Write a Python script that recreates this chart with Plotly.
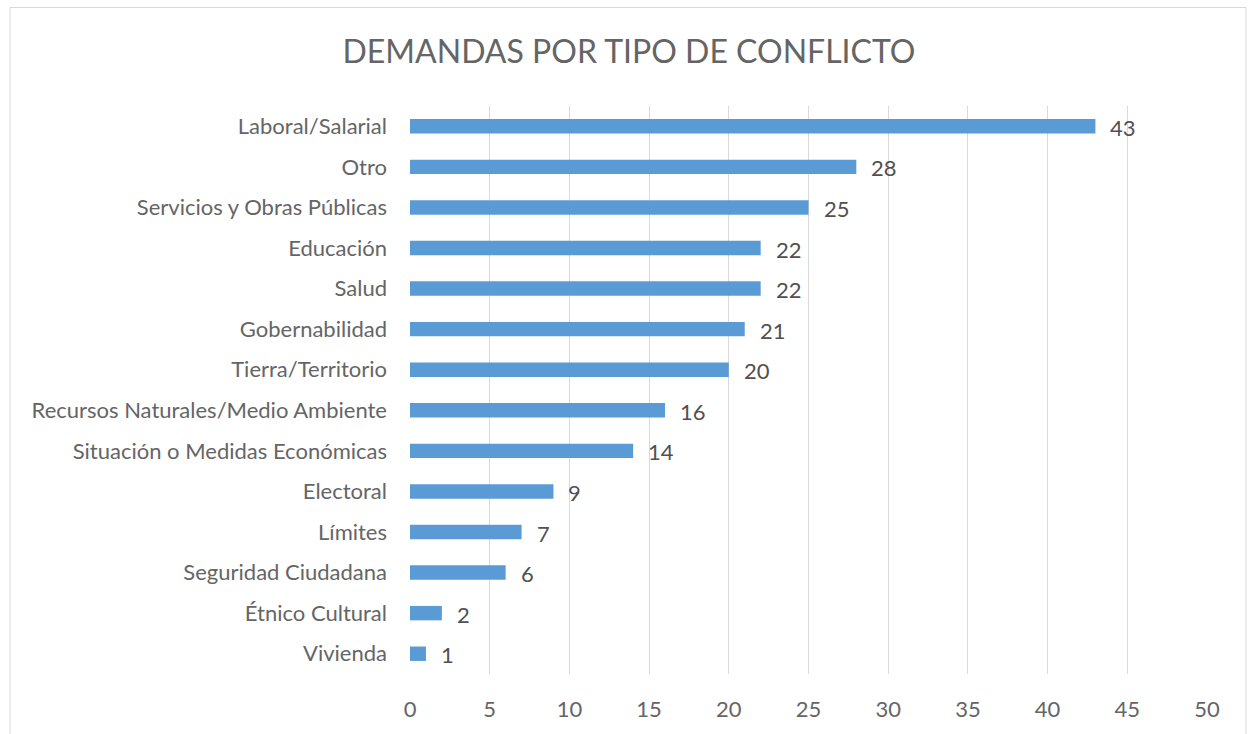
import plotly.graph_objects as go

categories = ["Laboral/Salarial", "Otro", "Servicios y Obras Públicas", "Educación", "Salud",
              "Gobernabilidad", "Tierra/Territorio", "Recursos Naturales/Medio Ambiente",
              "Situación o Medidas Económicas", "Electoral", "Límites", "Seguridad Ciudadana",
              "Étnico Cultural", "Vivienda"]
values = [43, 28, 25, 22, 22, 21, 20, 16, 14, 9, 7, 6, 2, 1]
x_ticks = [0, 5, 10, 15, 20, 25, 30, 35, 40, 45, 50]

FONT = "Lato, Open Sans, sans-serif"
FS = 22

fig = go.Figure()
fig.add_trace(go.Bar(
    y=categories, x=values, orientation="h",
    marker=dict(color="#5B9BD5", line=dict(width=0)),
    hoverinfo="x+y",
))

annotations = [
    dict(x=v, y=c, xref="x", yref="y", text=str(v), showarrow=False,
         xanchor="left", xshift=13, yshift=-1,
         font=dict(family=FONT, size=FS, color="#505050"))
    for c, v in zip(categories, values)
]

fig.update_layout(
    width=1248, height=734,
    margin=dict(l=410, r=41, t=106, b=57),
    paper_bgcolor="white", plot_bgcolor="white",
    bargap=0.645,
    showlegend=False,
    title=dict(text="DEMANDAS POR TIPO DE CONFLICTO", x=0.504, xanchor="center",
               y=0.929, yanchor="middle", yref="container",
               font=dict(family=FONT, size=32, color="#656565")),
    font=dict(family=FONT, size=FS, color="#656565"),
    xaxis=dict(range=[0, 50], tickvals=x_ticks, showgrid=True, gridcolor="#D9D9D9",
               gridwidth=1, zeroline=False, showline=False, ticks="",
               ticklabelstandoff=20, tickfont=dict(family=FONT, size=FS, color="#656565")),
    yaxis=dict(categoryorder="array", categoryarray=categories[::-1], showgrid=False,
               zeroline=False, showline=False, ticks="", ticklabelstandoff=22,
               tickfont=dict(family=FONT, size=FS, color="#656565")),
    annotations=annotations,
    shapes=[dict(type="rect", xref="paper", yref="paper",
                 x0=(10 - 410) / 797, x1=(1246 - 410) / 797,
                 y0=(677 - 745) / 571, y1=(677 - 7) / 571,
                 line=dict(color="#D9D9D9", width=1), layer="below")],
)

fig.write_html("out.html", config={"displayModeBar": False},
               post_script="document.body.style.margin='0';document.body.style.overflow='hidden';")
